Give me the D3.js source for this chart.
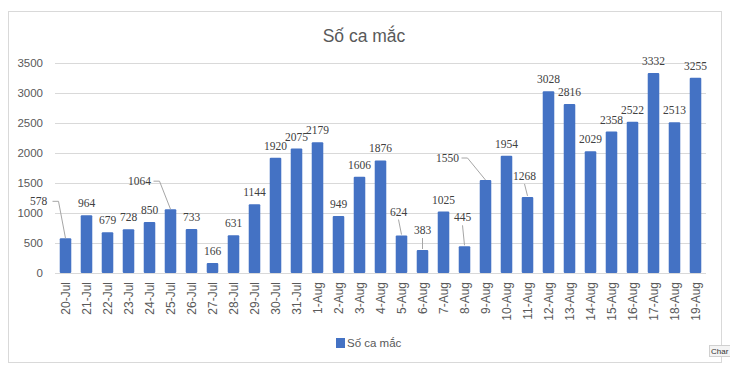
<!DOCTYPE html>
<html>
<head>
<meta charset="utf-8">
<script src="https://cdn.jsdelivr.net/npm/d3@7"></script>
<style>
  body { margin: 0; background: #fff; }
  text { font-family: "Liberation Sans", Arial, sans-serif; }
</style>
</head>
<body>
<svg width="730" height="371"></svg>
<script>
// data
var days = ["20-Jul","21-Jul","22-Jul","23-Jul","24-Jul","25-Jul","26-Jul","27-Jul","28-Jul","29-Jul",
            "30-Jul","31-Jul","1-Aug","2-Aug","3-Aug","4-Aug","5-Aug","6-Aug","7-Aug","8-Aug",
            "9-Aug","10-Aug","11-Aug","12-Aug","13-Aug","14-Aug","15-Aug","16-Aug","17-Aug","18-Aug","19-Aug"];
var cases = [578, 964, 679, 728, 850, 1064, 733, 166, 631, 1144,
             1920, 2075, 2179, 949, 1606, 1876, 624, 383, 1025, 445,
             1550, 1954, 1268, 3028, 2816, 2029, 2358, 2522, 3332, 2513, 3255];
var yTicks = [0, 500, 1000, 1500, 2000, 2500, 3000, 3500];
var seriesName = "Số ca mắc";

// labels that were moved off their bar, with a leader line (offset from bar top, px)
var callouts = {
  "20-Jul": {dx: -27, dy: -37, elbow: true},
  "25-Jul": {dx: -31, dy: -28, elbow: true},
  "5-Aug":  {dx: -3,  dy: -24},
  "6-Aug":  {dx: 0,   dy: -20},
  "8-Aug":  {dx: -2,  dy: -29},
  "9-Aug":  {dx: -38, dy: -22, elbow: true},
  "11-Aug": {dx: -3,  dy: -21}
};

var svg = d3.select("svg");

// chart area border
svg.append("rect")
  .attr("x", 8.5).attr("y", 11.5)
  .attr("width", 713).attr("height", 351)
  .attr("fill", "#fff")
  .attr("stroke", "#d9d9d9");

var x = d3.scaleBand().domain(days).range([55, 706]).paddingInner(0.45).paddingOuter(0.225);
var y = d3.scaleLinear().domain([0, 3500]).range([273, 63]);

// gridlines
svg.append("g")
  .selectAll("line")
  .data(yTicks)
  .join("line")
  .attr("x1", 55).attr("x2", 706)
  .attr("y1", d => Math.round(y(d)) + 0.5)
  .attr("y2", d => Math.round(y(d)) + 0.5)
  .attr("stroke", "#d9d9d9");

// y axis labels
var yAxis = svg.append("g")
  .attr("transform", "translate(43,0)")
  .call(d3.axisLeft(y).tickValues(yTicks).tickFormat(d3.format("d")).tickSize(0).tickPadding(0));
yAxis.select(".domain").remove();
yAxis.selectAll("text")
  .attr("fill", "#595959")
  .style("font-size", "11.5px")
  .style("font-family", "Liberation Sans, Arial, sans-serif");

// x axis labels
var xAxis = svg.append("g")
  .attr("transform", "translate(0,273)")
  .call(d3.axisBottom(x).tickSize(0).tickPadding(0));
xAxis.select(".domain").remove();
xAxis.selectAll("text")
  .attr("fill", "#595959")
  .style("font-size", "12px")
  .style("font-family", "Liberation Sans, Arial, sans-serif")
  .attr("text-anchor", "end")
  .attr("dy", "0.35em")
  .attr("transform", "translate(0,9) rotate(-90)")
  .attr("x", 0).attr("y", 0);

// bars
svg.append("g")
  .selectAll("rect")
  .data(days)
  .join("rect")
  .attr("x", d => x(d))
  .attr("width", x.bandwidth())
  .attr("y", (d, i) => y(cases[i]))
  .attr("height", (d, i) => y(0) - y(cases[i]))
  .attr("rx", 1)
  .attr("fill", "#4472c4");

// leader lines
var lead = svg.append("g").attr("fill", "none").attr("stroke", "#a6a6a6").attr("stroke-width", 1);
days.forEach(function(d, i) {
  var c = callouts[d];
  if (!c) return;
  var bx = x(d) + x.bandwidth() / 2, by = y(cases[i]);
  var lx = bx + c.dx, ly = by + c.dy;
  var pts;
  if (c.elbow) {
    pts = [[lx + 14, ly], [lx + 20, ly], [bx, by]];
  } else {
    pts = [[lx, ly + 8], [bx, by - 1]];
  }
  lead.append("path").attr("d", d3.line()(pts));
});

// data labels
svg.append("g")
  .selectAll("text")
  .data(days)
  .join("text")
  .attr("x", d => x(d) + x.bandwidth() / 2 + (callouts[d] ? callouts[d].dx : 0))
  .attr("y", (d, i) => y(cases[i]) + (callouts[d] ? callouts[d].dy : -12))
  .attr("dy", "0.35em")
  .attr("text-anchor", "middle")
  .style("font-family", "Liberation Serif, Times New Roman, serif")
  .style("font-size", "11.5px")
  .attr("fill", "#404040")
  .text((d, i) => cases[i]);

// title
svg.append("text")
  .attr("x", 364).attr("y", 42)
  .attr("text-anchor", "middle")
  .attr("fill", "#595959")
  .style("font-size", "17.5px")
  .text(seriesName);

// legend
svg.append("rect")
  .attr("x", 336).attr("y", 338)
  .attr("width", 9).attr("height", 10)
  .attr("fill", "#4472c4");
svg.append("text")
  .attr("x", 347).attr("y", 343)
  .attr("dy", "0.35em")
  .attr("fill", "#595959")
  .style("font-size", "11.5px")
  .text(seriesName);

// little tooltip stub at the right edge
svg.append("rect")
  .attr("x", 709.5).attr("y", 345.5)
  .attr("width", 30).attr("height", 11)
  .attr("fill", "#f4f4f4")
  .attr("stroke", "#d0d0d0");
svg.append("text")
  .attr("x", 711).attr("y", 354)
  .attr("fill", "#333")
  .style("font-size", "8px")
  .text("Char");
</script>
</body>
</html>
